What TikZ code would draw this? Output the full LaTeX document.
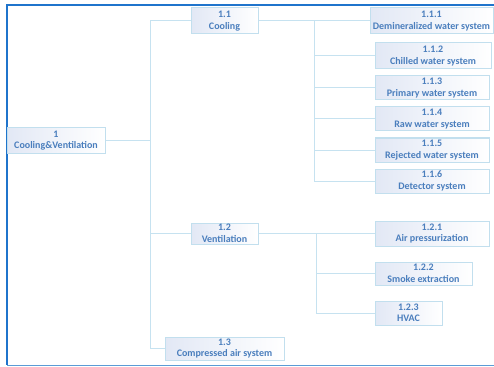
\documentclass[tikz,border=0pt]{standalone}
\usepackage{fontspec}
\setmainfont{Carlito}
\definecolor{framedark}{HTML}{1F74CC}
\definecolor{framelight}{HTML}{5B9BD5}
\definecolor{linkblue}{HTML}{C6E2F0}
\definecolor{boxedge}{HTML}{C2DFEE}
\definecolor{boxtint}{HTML}{E2E8F5}
\definecolor{labelblue}{HTML}{4A7EBD}
\tikzset{
  wbs/.style={draw=boxedge, line width=1pt, inner sep=0pt, align=center,
    font=\fontsize{10}{11.5}\selectfont\bfseries, text=labelblue,
    left color=boxtint, right color=white},
  link/.style={draw=linkblue, line width=1pt},
}
\begin{document}
\begin{tikzpicture}[x=1pt,y=-1pt]
\useasboundingbox (0,0) rectangle (494,366);
% outer frame (open on the right)
\draw[framedark, line width=2pt] (494,5) -- (7,5) -- (7,365);
\draw[framelight, line width=1pt] (7,365) -- (494,365);

% nodes: root, first level, second level
\node[wbs, minimum width=98pt, minimum height=25pt] (n1) at (56,140.5) {1\\Cooling\&Ventilation};
\node[wbs, minimum width=67pt, minimum height=26pt] (n11) at (224.5,21) {1.1\\Cooling};
\node[wbs, minimum width=67pt, minimum height=21pt] (n12) at (224.5,233.5) {1.2\\Ventilation};
\node[wbs, minimum width=119pt, minimum height=23pt] (n13) at (224.5,348.5) {1.3\\Compressed air system};

\node[wbs, minimum width=123pt, minimum height=26pt] (n111) at (431.5,21) {1.1.1\\Demineralized water system};
\node[wbs, minimum width=116pt, minimum height=26pt] (n112) at (433,56) {1.1.2\\Chilled water system};
\node[wbs, minimum width=114pt, minimum height=24pt] (n113) at (432,88) {1.1.3\\Primary water system};
\node[wbs, minimum width=114pt, minimum height=24pt] (n114) at (432,119) {1.1.4\\Raw water system};
\node[wbs, minimum width=114pt, minimum height=24pt] (n115) at (432,150) {1.1.5\\Rejected water system};
\node[wbs, minimum width=114pt, minimum height=24pt] (n116) at (432,181) {1.1.6\\Detector system};

\node[wbs, minimum width=114pt, minimum height=25pt] (n121) at (432,233.5) {1.2.1\\Air pressurization};
\node[wbs, minimum width=97pt, minimum height=23pt] (n122) at (423.5,273.5) {1.2.2\\Smoke extraction};
\node[wbs, minimum width=67pt, minimum height=24pt] (n123) at (408.5,313) {1.2.3\\HVAC};

% bus lines
\coordinate (tr) at (150,0);
\coordinate (b1) at (314,0);
\coordinate (b2) at (316,0);

% root to first level
\draw[link] (n1.east) -- (n1.east -| tr);
\draw[link] (n11.west) -| (tr |- n13.west) -- (n13.west);
\draw[link] (n12.west) -- (n12.west -| tr);

% cooling branch
\draw[link] (n11.east) -- (n111.west);
\draw[link] (n11.east -| b1) |- (n116.west);
\foreach \c in {n112,n113,n114,n115}
  \draw[link] (\c.west) -- (\c.west -| b1);

% ventilation branch
\draw[link] (n12.east) -- (n121.west);
\draw[link] (n12.east -| b2) |- (n123.west);
\draw[link] (n122.west) -- (n122.west -| b2);
\end{tikzpicture}
\end{document}
